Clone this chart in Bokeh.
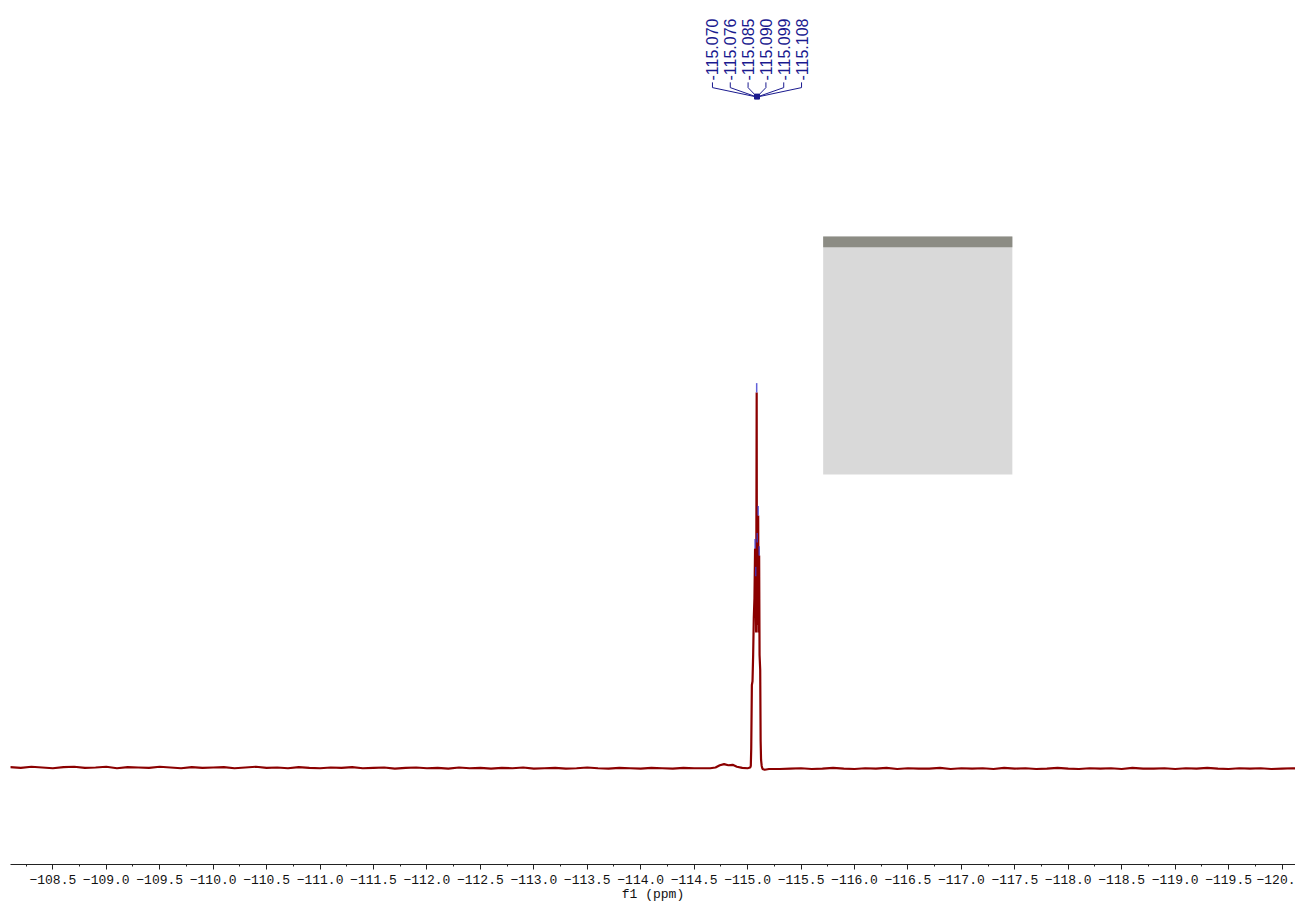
import numpy as np
from bokeh.plotting import figure
from bokeh.models import Range1d, FixedTicker
from bokeh.core.properties import value
from bokeh.embed import file_html
from bokeh.resources import INLINE

# ---------------- data ----------------
# baseline (left of multiplet), ppm grid -108.1 .. -114.6 step 0.1
base_left_start, base_left_stop = -108.1, -114.6
base_left_vals = [
    0.001, -0.001, 0.002, 0.000, -0.002, 0.001, 0.002, -0.001, 0.000, 0.002,
    -0.002, 0.001, 0.000, -0.001, 0.002, 0.000, -0.002, 0.001, -0.001, 0.000,
    0.001, -0.002, 0.000, 0.002, -0.001, 0.000, -0.002, 0.001, -0.001, -0.002,
    0.000, -0.001, 0.001, -0.002, -0.001, 0.000, -0.003, -0.001, 0.000, -0.002,
    -0.001, -0.003, 0.000, -0.002, -0.001, -0.003, -0.001, -0.002, 0.000, -0.003,
    -0.002, -0.001, -0.003, -0.002, 0.000, -0.002, -0.003, -0.001, -0.002, -0.003,
    -0.001, -0.002, -0.003, -0.001, -0.002, -0.002,
]
# multiplet region (incl. small bump near -114.78)
peak_ppm = [-114.65, -114.70, -114.74, -114.78, -114.82, -114.86, -114.90, -114.95,
            -115.00, -115.025, -115.030, -115.034, -115.040, -115.046, -115.052,
            -115.058, -115.064, -115.070, -115.073, -115.076, -115.080, -115.085,
            -115.087, -115.090, -115.094, -115.099, -115.103, -115.108, -115.112,
            -115.118, -115.122, -115.126, -115.132, -115.140, -115.160, -115.200]
peak_int = [-0.002, 0.000, 0.006, 0.009, 0.006, 0.007, 0.002, -0.001,
            -0.002, 0.000, 0.004, 0.05, 0.22, 0.23, 0.30,
            0.40, 0.45, 0.584, 0.40, 0.51, 0.36, 1.000,
            0.45, 0.60, 0.38, 0.672, 0.36, 0.565, 0.30,
            0.26, 0.07, 0.02, 0.004, -0.004, -0.006, -0.004]
# baseline right of multiplet, ppm grid -115.3 .. -120.1 step 0.1
base_right_start, base_right_stop = -115.3, -120.1
base_right_vals = [
    -0.004, -0.003, -0.002, -0.004, -0.003, -0.001, -0.003, -0.004, -0.002, -0.003,
    -0.001, -0.004, -0.002, -0.003, -0.003, -0.001, -0.004, -0.002, -0.003, -0.002,
    -0.004, -0.001, -0.003, -0.002, -0.004, -0.003, -0.001, -0.003, -0.004, -0.002,
    -0.003, -0.002, -0.004, -0.001, -0.003, -0.003, -0.002, -0.004, -0.002, -0.003,
    -0.001, -0.003, -0.004, -0.002, -0.003, -0.002, -0.004, -0.003, -0.002,
]
end_ppm, end_int = [-120.2], [-0.003]

# picked peaks
picked_ppm = [-115.070, -115.076, -115.085, -115.090, -115.099, -115.108]
picked_int = [0.584, 0.51, 1.000, 0.60, 0.672, 0.565]
picked_labels = ["-115.070", "-115.076", "-115.085", "-115.090", "-115.099", "-115.108"]

# x axis ticks (last label is cut at the right edge in the original)
tick_values = [-108.5 - 0.5 * i for i in range(24)]
tick_labels = ["\u2212%.1f" % abs(t) for t in tick_values[:-1]] + ["\u2212120."]
minor_values = [-108.25 - 0.5 * i for i in range(24)]

# grey inset panel (ppm / intensity extents)
box_ppm = [-115.707, -117.477]
box_int = [0.781, 1.416]
box_band_bottom = 1.387

# --------------- assemble ---------------
left_ppm = list(np.round(np.linspace(base_left_start, base_left_stop, len(base_left_vals)), 3))
right_ppm = list(np.round(np.linspace(base_right_start, base_right_stop, len(base_right_vals)), 3))
spec_x = left_ppm + peak_ppm + right_ppm + end_ppm
spec_y = base_left_vals + peak_int + base_right_vals + end_int

X_LEFT, X_RIGHT = -108.104, -120.126
Y_BOT, Y_TOP = -0.2587, 2.0453

p = figure(frame_width=1285, frame_height=864, output_backend="svg", toolbar_location=None,
           x_range=Range1d(X_LEFT, X_RIGHT), y_range=Range1d(Y_BOT, Y_TOP),
           y_axis_location=None, min_border_left=10, min_border_right=0,
           min_border_top=0, min_border_bottom=0)
p.outline_line_color = None
p.xgrid.visible = False
p.ygrid.visible = False
p.background_fill_color = "white"

# grey panel
p.quad(left=[box_ppm[0]], right=[box_ppm[1]], bottom=[box_int[0]], top=[box_int[1]],
       fill_color="#d9d9d9", line_color=None)
p.quad(left=[box_ppm[0]], right=[box_ppm[1]], bottom=[box_band_bottom], top=[box_int[1]],
       fill_color="#8c8c84", line_color=None)

# spectrum
p.line(spec_x, spec_y, line_color="#8B0000", line_width=2.2)

# blue peak-pick ticks on top of peaks
p.segment(x0=picked_ppm, y0=picked_int, x1=picked_ppm,
          y1=[v + 0.025 for v in picked_int], line_color="#3a3ad0", line_width=1.5, line_alpha=0.8)

# labels & connectors
n = len(picked_ppm)
center = sum(picked_ppm) / n
spacing = 0.1667
label_x = [center + (2.5 - i) * spacing for i in range(n)]
Y_TEXT, Y_V, Y_M = 1.832, 1.813, 1.789
navy = "#1a1a8f"
p.segment(x0=label_x, y0=[Y_TEXT - 0.005] * n, x1=label_x, y1=[Y_V] * n, line_color=navy, line_width=1)
p.segment(x0=label_x, y0=[Y_V] * n, x1=picked_ppm, y1=[Y_M] * n, line_color=navy, line_width=1)
p.scatter(x=[center], y=[Y_M], marker="square", size=5, color=navy)
p.text(x=label_x, y=[Y_TEXT] * n, text=picked_labels, angle=np.pi / 2,
       text_align="left", text_baseline="middle", text_color=navy,
       text_font=value("Liberation Sans"), text_font_size="16px")

# axis
ax = p.xaxis[0]
ax.ticker = FixedTicker(ticks=tick_values, minor_ticks=minor_values)
ax.major_label_overrides = {t: l for t, l in zip(tick_values, tick_labels)}
ax.major_tick_out = 5
ax.major_tick_in = 0
ax.minor_tick_out = 2
ax.minor_tick_in = 0
ax.axis_line_color = "#222222"
ax.major_tick_line_color = "#222222"
ax.minor_tick_line_color = "#222222"
ax.major_label_text_font = "Liberation Mono"
ax.major_label_text_font_size = "13px"
ax.major_label_text_color = "#111111"
ax.major_label_standoff = 5
ax.axis_label = "f1 (ppm)"
ax.axis_label_text_font = "Liberation Mono"
ax.axis_label_text_font_size = "13px"
ax.axis_label_text_font_style = "normal"
ax.axis_label_text_color = "#111111"
ax.axis_label_standoff = 0

open("out.html", "w").write(file_html(p, INLINE))
